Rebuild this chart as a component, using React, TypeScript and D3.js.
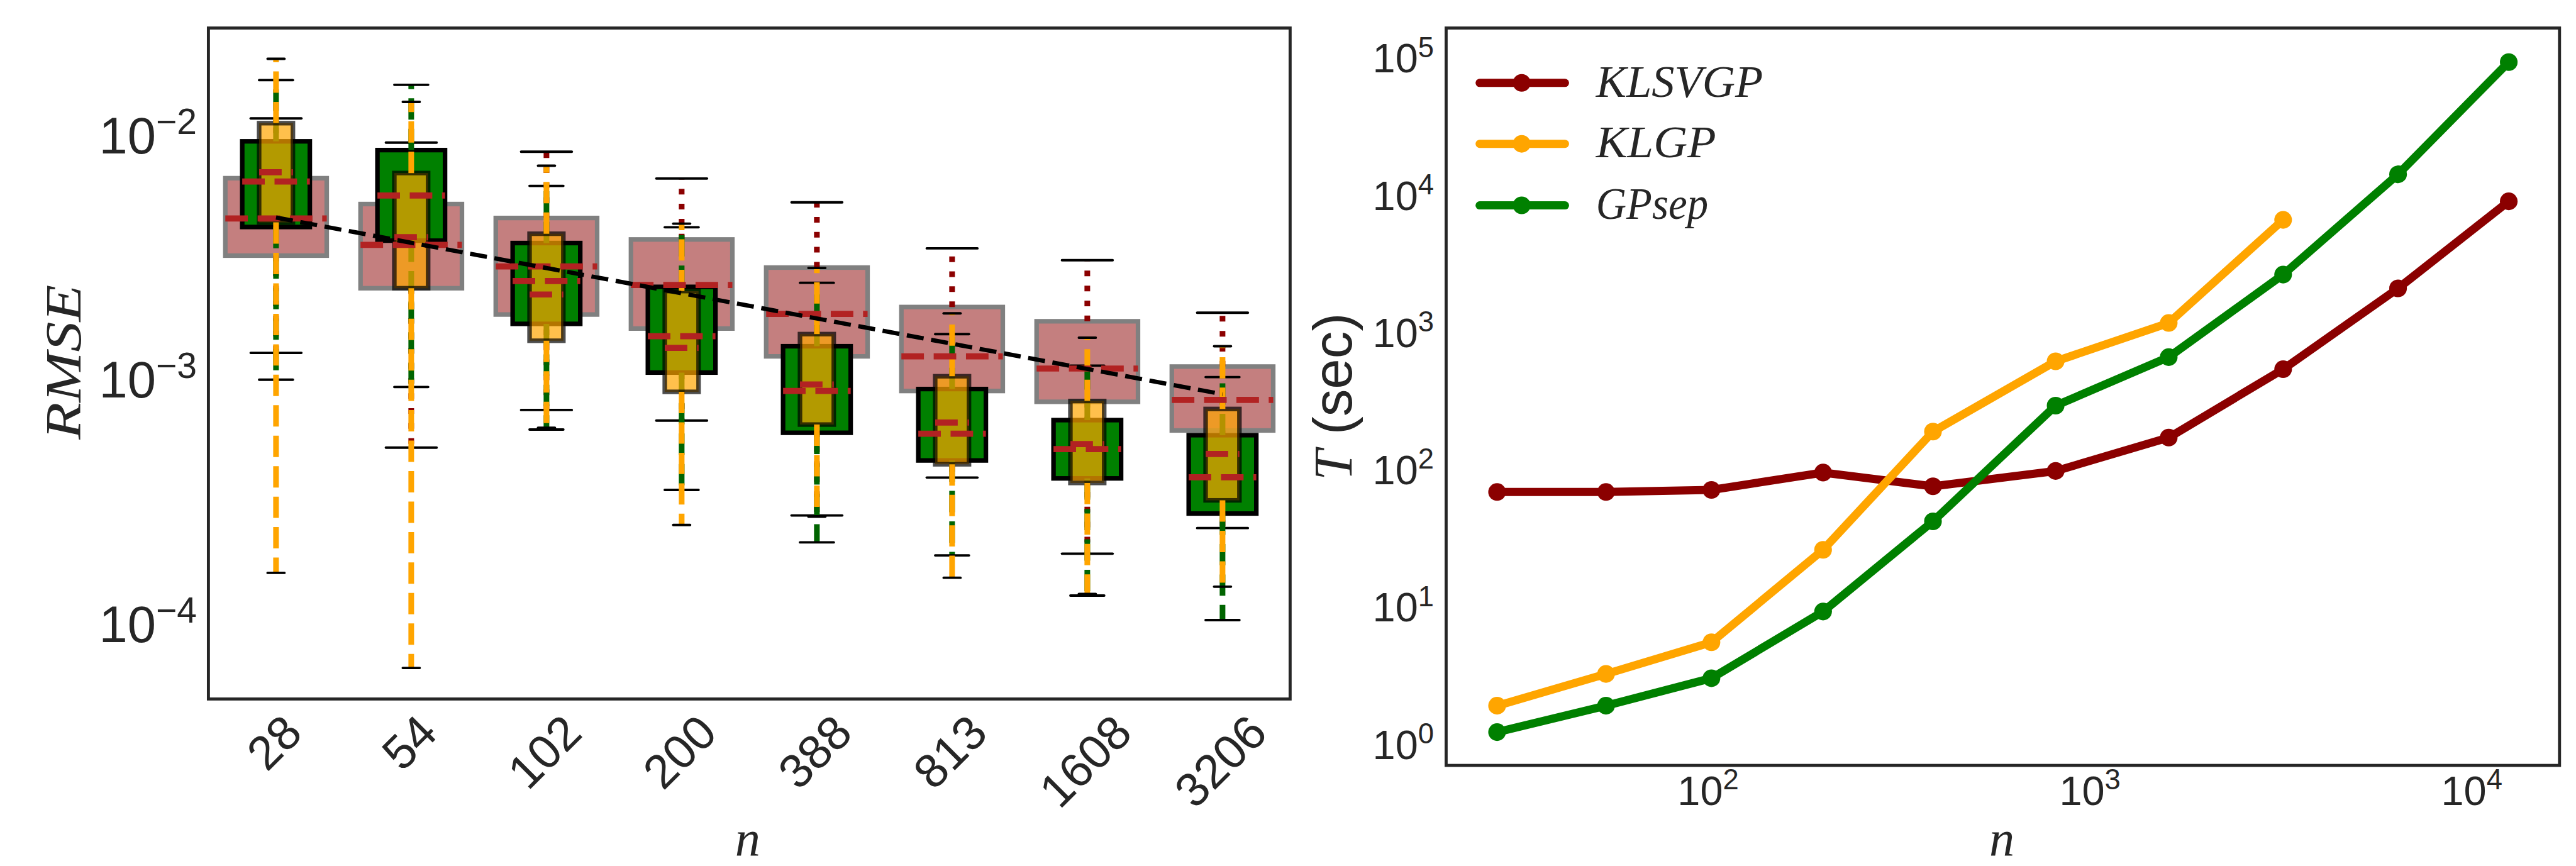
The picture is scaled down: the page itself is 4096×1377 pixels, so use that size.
import React from 'react';
import * as d3 from 'd3';

// ---------------- data ----------------
const nLabels = ['28', '54', '102', '200', '388', '813', '1608', '3206'];
// box stats per n: [lower whisker, q1, median, q3, upper whisker]
const klsvgpRmse = [
  [1.24e-3, 3.10e-3, 4.40e-3, 6.43e-3, 1.13e-2],
  [5.08e-4, 2.28e-3, 3.43e-3, 5.04e-3, 8.99e-3],
  [7.24e-4, 1.78e-3, 2.80e-3, 4.42e-3, 8.25e-3],
  [6.55e-4, 1.56e-3, 2.35e-3, 3.61e-3, 6.41e-3],
  [2.68e-4, 1.20e-3, 1.79e-3, 2.77e-3, 5.12e-3],
  [3.83e-4, 8.66e-4, 1.20e-3, 1.91e-3, 3.32e-3],
  [1.87e-4, 7.82e-4, 1.07e-3, 1.67e-3, 2.97e-3],
  [2.38e-4, 5.97e-4, 7.96e-4, 1.09e-3, 1.81e-3],
];
const gpsepRmse = [
  [9.63e-4, 4.06e-3, 6.23e-3, 9.10e-3, 1.62e-2],
  [8.99e-4, 3.57e-3, 5.46e-3, 8.38e-3, 1.55e-2],
  [6.02e-4, 1.63e-3, 2.44e-3, 3.49e-3, 5.98e-3],
  [3.41e-4, 1.03e-3, 1.45e-3, 2.31e-3, 4.05e-3],
  [2.08e-4, 5.84e-4, 8.66e-4, 1.32e-3, 2.40e-3],
  [1.84e-4, 4.50e-4, 5.79e-4, 8.82e-4, 1.48e-3],
  [1.26e-4, 3.80e-4, 5.01e-4, 6.58e-4, 1.10e-3],
  [1.00e-4, 2.73e-4, 3.84e-4, 5.71e-4, 9.87e-4],
];
const klgpRmse = [
  [1.56e-4, 4.24e-3, 6.80e-3, 1.08e-2, 1.98e-2],
  [6.37e-5, 2.28e-3, 3.69e-3, 6.75e-3, 1.32e-2],
  [6.12e-4, 1.39e-3, 2.15e-3, 3.81e-3, 7.23e-3],
  [2.45e-4, 8.59e-4, 1.30e-3, 2.22e-3, 4.19e-3],
  [2.65e-4, 6.31e-4, 9.21e-4, 1.48e-3, 2.76e-3],
  [1.49e-4, 4.34e-4, 6.43e-4, 9.95e-4, 1.80e-3],
  [1.28e-4, 3.64e-4, 5.25e-4, 7.88e-4, 1.43e-3],
  [1.37e-4, 3.09e-4, 4.78e-4, 7.31e-4, 1.32e-3],
];
const refLineRmse = [4.44e-3, 8.4e-4]; // at first and last n
const rmseTicks = [1e-2, 1e-3, 1e-4];

const timeN = [28, 54, 102, 200, 388, 813, 1608, 3206, 6412, 12500];
const klsvgpTime = [64.6, 64.6, 66.9, 89.5, 71.1, 91.9, 161, 507, 1968, 8474];
const klgpTime = [1.79, 3.05, 5.19, 24.5, 178, 579, 1101, 6210];
const gpsepTime = [1.15, 1.79, 2.84, 8.7, 39.5, 275, 621, 2480, 13340, 87700];
const timeYTicks = [1, 10, 100, 1e3, 1e4, 1e5];
const timeXTicks = [1e2, 1e3, 1e4];
const legendLabels = ['KLSVGP', 'KLGP', 'GPsep'];

// ---------------- layout ----------------
const S = 0.969;
const W = 4096;
const H = 1377;
const LP = { x0: 342, x1: 2117, y0: 46, y1: 1147 };
const RP = { x0: 2373, x1: 4200, y0: 46, y1: 1256 };
const INK = '#262626';
const SANS = "'Liberation Sans', Arial, sans-serif";
const SERIF = "'Liberation Serif', 'Times New Roman', serif";

const xBand = d3.scaleBand<string>().domain(nLabels).range([LP.x0 * S, LP.x1 * S]).padding(0);
const yL = d3.scaleLog().domain([10 ** -4.3229, 10 ** -1.5773]).range([LP.y1 * S, LP.y0 * S]);
const xR = d3.scaleLog().domain([10 ** 1.3137, 10 ** 4.2299]).range([RP.x0 * S, RP.x1 * S]);
const yR = d3.scaleLog().domain([10 ** -0.182, 10 ** 5.191]).range([RP.y1 * S, RP.y0 * S]);

const supText = (v: number) => {
  const e = Math.round(Math.log10(v));
  return e < 0 ? '\u2212' + Math.abs(e) : String(e);
};

function PowLabel({ x, y, v, F, anchor }: any) {
  return (
    <text x={x} y={y} fontSize={F} textAnchor={anchor} fontFamily={SANS} fill={INK}>
      <tspan>10</tspan>
      <tspan dy={-0.38 * F} fontSize={0.7 * F}>{supText(v)}</tspan>
    </text>
  );
}

const boxSets = [
  { data: klsvgpRmse, frac: 0.75, fill: '#c47f7f', fo: 1, stroke: '#808080', so: 1, wc: '#8b0000', wd: [9.3, 15.3] },
  { data: gpsepRmse, frac: 0.5, fill: '#008000', fo: 1, stroke: '#000000', so: 1, wc: '#006400', wd: [35, 15] },
  { data: klgpRmse, frac: 0.25, fill: '#ffa500', fo: 0.7, stroke: '#000000', so: 0.7, wc: '#ffa500', wd: [35, 15] },
];

const lineSets = [
  { name: legendLabels[0], ys: klsvgpTime, color: '#8b0000' },
  { name: legendLabels[1], ys: klgpTime, color: '#ffa500' },
  { name: legendLabels[2], ys: gpsepTime, color: '#008000' },
];
const legendWidths = [274, 197, 184];
const legendRows = [136, 236, 337];

export default function App() {
  const step = xBand.step();
  const cx = (c: string) => (xBand(c) as number) + xBand.bandwidth() / 2;
  const boxEdge = 7.5 * S;
  const whW = 9.3 * S;

  const lineGen = d3
    .line<[number, number]>()
    .x((d) => xR(d[0]))
    .y((d) => yR(d[1]));

  const xtF = 78 * S;
  return (
    <svg width={W} height={H} style={{ position: 'absolute', left: 0, top: 0, background: '#fff' }}>
      <rect x={0} y={0} width={W} height={H} fill="#fff" />
      {/* ---------- left panel ---------- */}
      {boxSets.map((b, bi) => (
        <g key={'bs' + bi}>
          {nLabels.map((c, i) => {
            const [lo, q1, , q3, hi] = b.data[i];
            const w = b.frac * step;
            const x = cx(c);
            return (
              <g key={c}>
                <rect
                  x={x - w / 2}
                  y={yL(q3)}
                  width={w}
                  height={yL(q1) - yL(q3)}
                  fill={b.fill}
                  fillOpacity={b.fo}
                  stroke={b.stroke}
                  strokeOpacity={b.so}
                  strokeWidth={boxEdge}
                />
                <line x1={x} x2={x} y1={yL(q3)} y2={yL(hi)} stroke={b.wc} strokeWidth={whW}
                  strokeDasharray={b.wd.map((d) => d * S).join(' ')} />
                <line x1={x} x2={x} y1={yL(q1)} y2={yL(lo)} stroke={b.wc} strokeWidth={whW}
                  strokeDasharray={b.wd.map((d) => d * S).join(' ')} />
                {[lo, hi].map((v, k) => (
                  <line key={k} x1={x - w / 4} x2={x + w / 4} y1={yL(v)} y2={yL(v)} stroke="#000"
                    strokeWidth={4 * S} strokeLinecap="round" />
                ))}
              </g>
            );
          })}
        </g>
      ))}
      {/* medians */}
      {boxSets.map((b, bi) => (
        <g key={'md' + bi}>
          {nLabels.map((c, i) => {
            const w = b.frac * step;
            const x = cx(c);
            const m = yL(b.data[i][2]);
            return (
              <line key={c} x1={x - w / 2} x2={x + w / 2} y1={m} y2={m} stroke="#b22222"
                strokeWidth={10 * S} strokeDasharray={`${37 * S} ${16 * S}`} />
            );
          })}
        </g>
      ))}
      {/* reference dashed line */}
      <line
        x1={cx(nLabels[0])}
        y1={yL(refLineRmse[0])}
        x2={cx(nLabels[nLabels.length - 1])}
        y2={yL(refLineRmse[1])}
        stroke="#000"
        strokeWidth={7 * S}
        strokeDasharray={`${28 * S} ${12.5 * S}`}
      />
      {/* left axes frame */}
      <rect x={LP.x0 * S} y={LP.y0 * S} width={(LP.x1 - LP.x0) * S} height={(LP.y1 - LP.y0) * S}
        fill="none" stroke={INK} strokeWidth={5 * S} />
      {/* left y ticks */}
      {rmseTicks.map((v) => (
        <PowLabel key={v} x={323 * S} y={yL(v) + 0.43 * 84 * S} v={v} F={84 * S} anchor="end" />
      ))}
      {/* left x ticks rotated */}
      {nLabels.map((c) => {
        const wInk = (c.length * 0.556 - 0.1) * xtF;
        const hInk = 0.716 * xtF;
        const cy = 1170 * S + (wInk + hInk) / (2 * Math.SQRT2);
        const x = cx(c) - 4 * S;
        return (
          <text key={c} transform={`translate(${x},${cy}) rotate(-45)`} x={0} y={0.358 * xtF}
            textAnchor="middle" fontSize={xtF} fontFamily={SANS} fill={INK}>
            {c}
          </text>
        );
      })}
      {/* left axis labels */}
      <text transform={`translate(${132 * S},${594 * S}) rotate(-90)`} textAnchor="middle"
        fontSize={83 * S} fontFamily={SERIF} fontStyle="italic" fill={INK}
        textLength={254 * S} lengthAdjust="spacingAndGlyphs">RMSE</text>
      <text x={1227 * S} y={1403 * S} textAnchor="middle" fontSize={83 * S} fontFamily={SERIF}
        fontStyle="italic" fill={INK}>n</text>

      {/* ---------- right panel ---------- */}
      {lineSets.map((ls) => {
        const pts = ls.ys.map((y, i) => [timeN[i], y] as [number, number]);
        return (
          <g key={ls.name}>
            <path d={lineGen(pts) as string} fill="none" stroke={ls.color} strokeWidth={13.5 * S}
              strokeLinejoin="round" strokeLinecap="round" />
            {pts.map((p, i) => (
              <circle key={i} cx={xR(p[0])} cy={yR(p[1])} r={14.5 * S} fill={ls.color} />
            ))}
          </g>
        );
      })}
      {/* legend */}
      {lineSets.map((ls, i) => (
        <g key={'lg' + i}>
          <line x1={2428 * S} x2={2568 * S} y1={legendRows[i] * S} y2={legendRows[i] * S}
            stroke={ls.color} strokeWidth={13.5 * S} strokeLinecap="round" />
          <circle cx={2497 * S} cy={legendRows[i] * S} r={14.5 * S} fill={ls.color} />
          <text x={2619 * S} y={(legendRows[i] + 22.5) * S} fontSize={74 * S} fontFamily={SERIF}
            fontStyle="italic" fill={INK} textLength={legendWidths[i] * S}
            lengthAdjust="spacingAndGlyphs">{ls.name}</text>
        </g>
      ))}
      <rect x={RP.x0 * S} y={RP.y0 * S} width={(RP.x1 - RP.x0) * S} height={(RP.y1 - RP.y0) * S}
        fill="none" stroke={INK} strokeWidth={5 * S} />
      {timeYTicks.map((v) => (
        <PowLabel key={v} x={2353 * S} y={yR(v) + 0.45 * 67 * S} v={v} F={67 * S} anchor="end" />
      ))}
      {timeXTicks.map((v) => (
        <PowLabel key={v} x={xR(v)} y={1321 * S} v={v} F={67 * S} anchor="middle" />
      ))}
      <text transform={`translate(${2218 * S},${651 * S}) rotate(-90)`} textAnchor="middle"
        fontSize={90 * S} fill={INK}>
        <tspan fontFamily={SERIF} fontStyle="italic">T</tspan>
        <tspan fontFamily={SANS}> (sec)</tspan>
      </text>
      <text x={3285 * S} y={1403 * S} textAnchor="middle" fontSize={83 * S} fontFamily={SERIF}
        fontStyle="italic" fill={INK}>n</text>
    </svg>
  );
}
